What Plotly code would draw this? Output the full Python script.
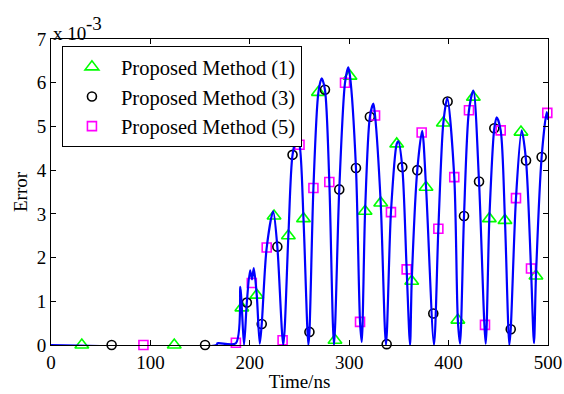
import plotly.graph_objects as go

# ---- data (values in units of 1e-3) ----
# Proposed Method (1) markers
m1_t = [31, 124, 192, 207, 224.4, 238.8, 254, 269, 285.7, 300.8, 316, 331.7, 347.8,
        362.9, 377.3, 394.7, 409.3, 424.9, 441, 456.7, 472.8, 487.9]
m1_v = [0, 0, 0.85, 1.14, 2.95, 2.5, 2.89, 5.78, 0.11, 6.15, 3.06, 3.25, 4.6,
        1.46, 3.61, 5.08, 0.57, 5.67, 2.89, 2.85, 4.87, 1.58]
# Proposed Method (3) markers
m3_t = [61, 155, 197, 212, 227.7, 243, 260, 275.6, 290, 306.8, 320.8, 337.7, 353.4,
        368.5, 384.6, 399, 415.5, 430.6, 446, 462.5, 477.9, 493.6]
m3_v = [0, 0, 0.97, 0.48, 2.25, 4.35, 0.3, 5.84, 3.56, 4.05, 5.22, 0.02, 4.07,
        4.0, 0.72, 5.57, 2.95, 3.74, 4.96, 0.36, 4.22, 4.3]
# Proposed Method (5) markers
m5_t = [93, 186, 202, 217, 233, 250, 264, 280, 295.8, 310.9, 326, 342, 357.8,
        372.9, 389.7, 405.7, 420.5, 436.6, 452.4, 467.8, 482.9, 499.3]
m5_v = [0, 0.05, 1.42, 2.23, 0.11, 4.58, 3.59, 3.73, 6.0, 0.53, 5.25, 3.04, 1.73,
        4.86, 2.66, 3.84, 5.37, 0.46, 4.91, 3.36, 1.75, 5.31]

# error curve: baseline, peaks and troughs
base_t = [0, 166.7, 167.5, 186]
base_v = [0, 0, 0.04, 0.04]
peak_t = [190.5, 200.3, 202.2, 204, 223.5, 247.2, 272.3, 299.1, 324.3, 349.4,
          373.4, 398.7, 424.9, 448.4, 473.5, 498.7]
peak_v = [1.33, 1.71, 1.5, 1.76, 3.06, 4.72, 6.10, 6.35, 5.52, 4.66,
          4.90, 5.65, 5.82, 5.21, 4.91, 5.33]
trough_t = [194.2, 210.0, 233.7, 258.9, 284.7, 312.6, 337.0, 361.2, 385.3,
            411.5, 437.3, 461.1, 485.9, 500]
trough_v = [0.0, 0.03, 0.0, 0.0, 0.0, 0.07, 0.0, 0.0, 0.0,
            0.03, 0.03, 0.0, 0.04, 5.15]

x_ticks = [0, 100, 200, 300, 400, 500]
y_ticks = [0, 1, 2, 3, 4, 5, 6, 7]

# ---- build curve knots (curve passes through the marker samples) ----
knots = list(zip(base_t, base_v)) + list(zip(peak_t, peak_v)) + list(zip(trough_t, trough_v))
for ts, vs in ((m1_t, m1_v), (m3_t, m3_v), (m5_t, m5_v)):
    for t, v in zip(ts, vs):
        if t < 185:
            continue
        if all(abs(t - kt) > 1.0 for kt, _ in knots):
            knots.append((t, v))
knots.sort()
line_t = [k[0] for k in knots]
line_v = [k[1] for k in knots]

FONT = "Liberation Serif, Times New Roman, serif"

fig = go.Figure()
fig.add_trace(go.Scatter(x=m1_t, y=m1_v, mode="markers", name="Proposed Method (1)",
                         marker=dict(symbol="triangle-up-open", size=12, color="#00ff00",
                                     line=dict(width=1.6, color="#00ff00")),
                         cliponaxis=False))
fig.add_trace(go.Scatter(x=m3_t, y=m3_v, mode="markers", name="Proposed Method (3)",
                         marker=dict(symbol="circle-open", size=9, color="black",
                                     line=dict(width=1.6, color="black")),
                         cliponaxis=False))
fig.add_trace(go.Scatter(x=m5_t, y=m5_v, mode="markers", name="Proposed Method (5)",
                         marker=dict(symbol="square-open", size=9, color="#ff00ff",
                                     line=dict(width=1.6, color="#ff00ff")),
                         cliponaxis=False))
fig.add_trace(go.Scatter(x=line_t, y=line_v, mode="lines", showlegend=False,
                         line=dict(color="#0000ff", width=2.2, shape="spline", smoothing=0.8)))

axis_common = dict(showline=True, linecolor="black", linewidth=1, mirror="ticks",
                   ticks="inside", ticklen=5, tickcolor="black", showgrid=False,
                   zeroline=False, automargin=False,
                   tickfont=dict(family=FONT, size=19, color="black"))
fig.update_xaxes(range=[0, 500], tickvals=x_ticks, ticktext=[str(v) for v in x_ticks],
                 title=dict(text="Time/ns", font=dict(family=FONT, size=19, color="black"),
                            standoff=2),
                 **axis_common)
fig.update_yaxes(range=[0, 7], tickvals=y_ticks, ticktext=[str(v) for v in y_ticks],
                 title=dict(text="Error", font=dict(family=FONT, size=19, color="black"),
                            standoff=4),
                 **axis_common)

# axis exponent label, MATLAB style
fig.add_annotation(text="x 10", xref="paper", yref="paper", x=0, y=1,
                   xanchor="left", yanchor="bottom", yshift=-7, showarrow=False,
                   font=dict(family=FONT, size=19, color="black"))
fig.add_annotation(text="-3", xref="paper", yref="paper", x=0.066, y=1,
                   xanchor="left", yanchor="bottom", yshift=3, showarrow=False,
                   font=dict(family=FONT, size=19, color="black"))

fig.update_layout(
    width=564, height=394,
    margin=dict(l=51, r=16, t=39, b=49),
    paper_bgcolor="white", plot_bgcolor="white",
    font=dict(family=FONT, size=19, color="black"),
    legend=dict(x=0.022, y=0.977, xanchor="left", yanchor="top",
                bgcolor="white", bordercolor="black", borderwidth=1,
                font=dict(family=FONT, size=20.5, color="black"),
                itemwidth=48),
)

fig.write_html("out.html")
